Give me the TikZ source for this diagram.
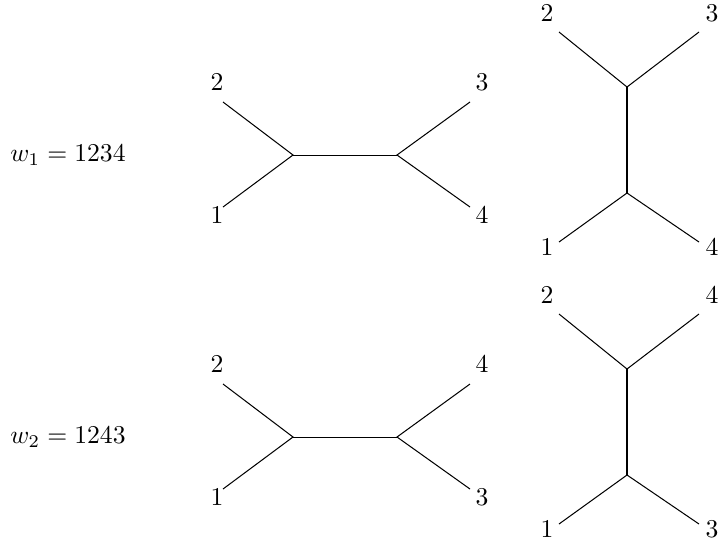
\documentclass[tikz,border=0pt]{standalone}
\begin{document}
\begin{tikzpicture}[x=0.39pt,y=-0.39pt,
  edge/.style={line width=0.4pt},
  lbl/.style={inner sep=0pt}]
\useasboundingbox (0,0) rectangle (719,545);
\foreach \row/\dy/\w/\a/\b/\c/\d/\e/\f/\g/\h in {1/0/1234/2/1/3/4/2/3/1/4, 2/282/1243/2/1/4/3/2/4/1/3}{
  \begin{scope}[yshift=-\dy*0.39pt]
    \node[lbl] (w\row) at (68,155) {$w_{\row} = \w$};
    % horizontal tree
    \coordinate (hl\row) at (293,155);
    \coordinate (hr\row) at (397,155);
    \coordinate (hA\row) at (223,102);
    \coordinate (hB\row) at (223,207);
    \coordinate (hC\row) at (470,102);
    \coordinate (hD\row) at (470,207);
    \draw[edge] (hl\row) -- (hr\row);
    \draw[edge] (hA\row) -- (hl\row) -- (hB\row);
    \draw[edge] (hC\row) -- (hr\row) -- (hD\row);
    \node[lbl] (hLA\row) at (217,82) {$\a$};
    \node[lbl] (hLB\row) at (217,215) {$\b$};
    \node[lbl] (hLC\row) at (482,82) {$\c$};
    \node[lbl] (hLD\row) at (482,215) {$\d$};
    % vertical tree
    \coordinate (vt\row) at (627,87);
    \coordinate (vb\row) at (627,193);
    \coordinate (vA\row) at (559,32);
    \coordinate (vB\row) at (699,32);
    \coordinate (vC\row) at (559,242);
    \coordinate (vD\row) at (699,242);
    \draw[edge] (vt\row) -- (vb\row);
    \draw[edge] (vA\row) -- (vt\row) -- (vB\row);
    \draw[edge] (vC\row) -- (vb\row) -- (vD\row);
    \node[lbl] (vLA\row) at (547,13) {$\e$};
    \node[lbl] (vLB\row) at (712,13) {$\f$};
    \node[lbl] (vLC\row) at (547,247) {$\g$};
    \node[lbl] (vLD\row) at (712,247) {$\h$};
  \end{scope}
}
\end{tikzpicture}
\end{document}
